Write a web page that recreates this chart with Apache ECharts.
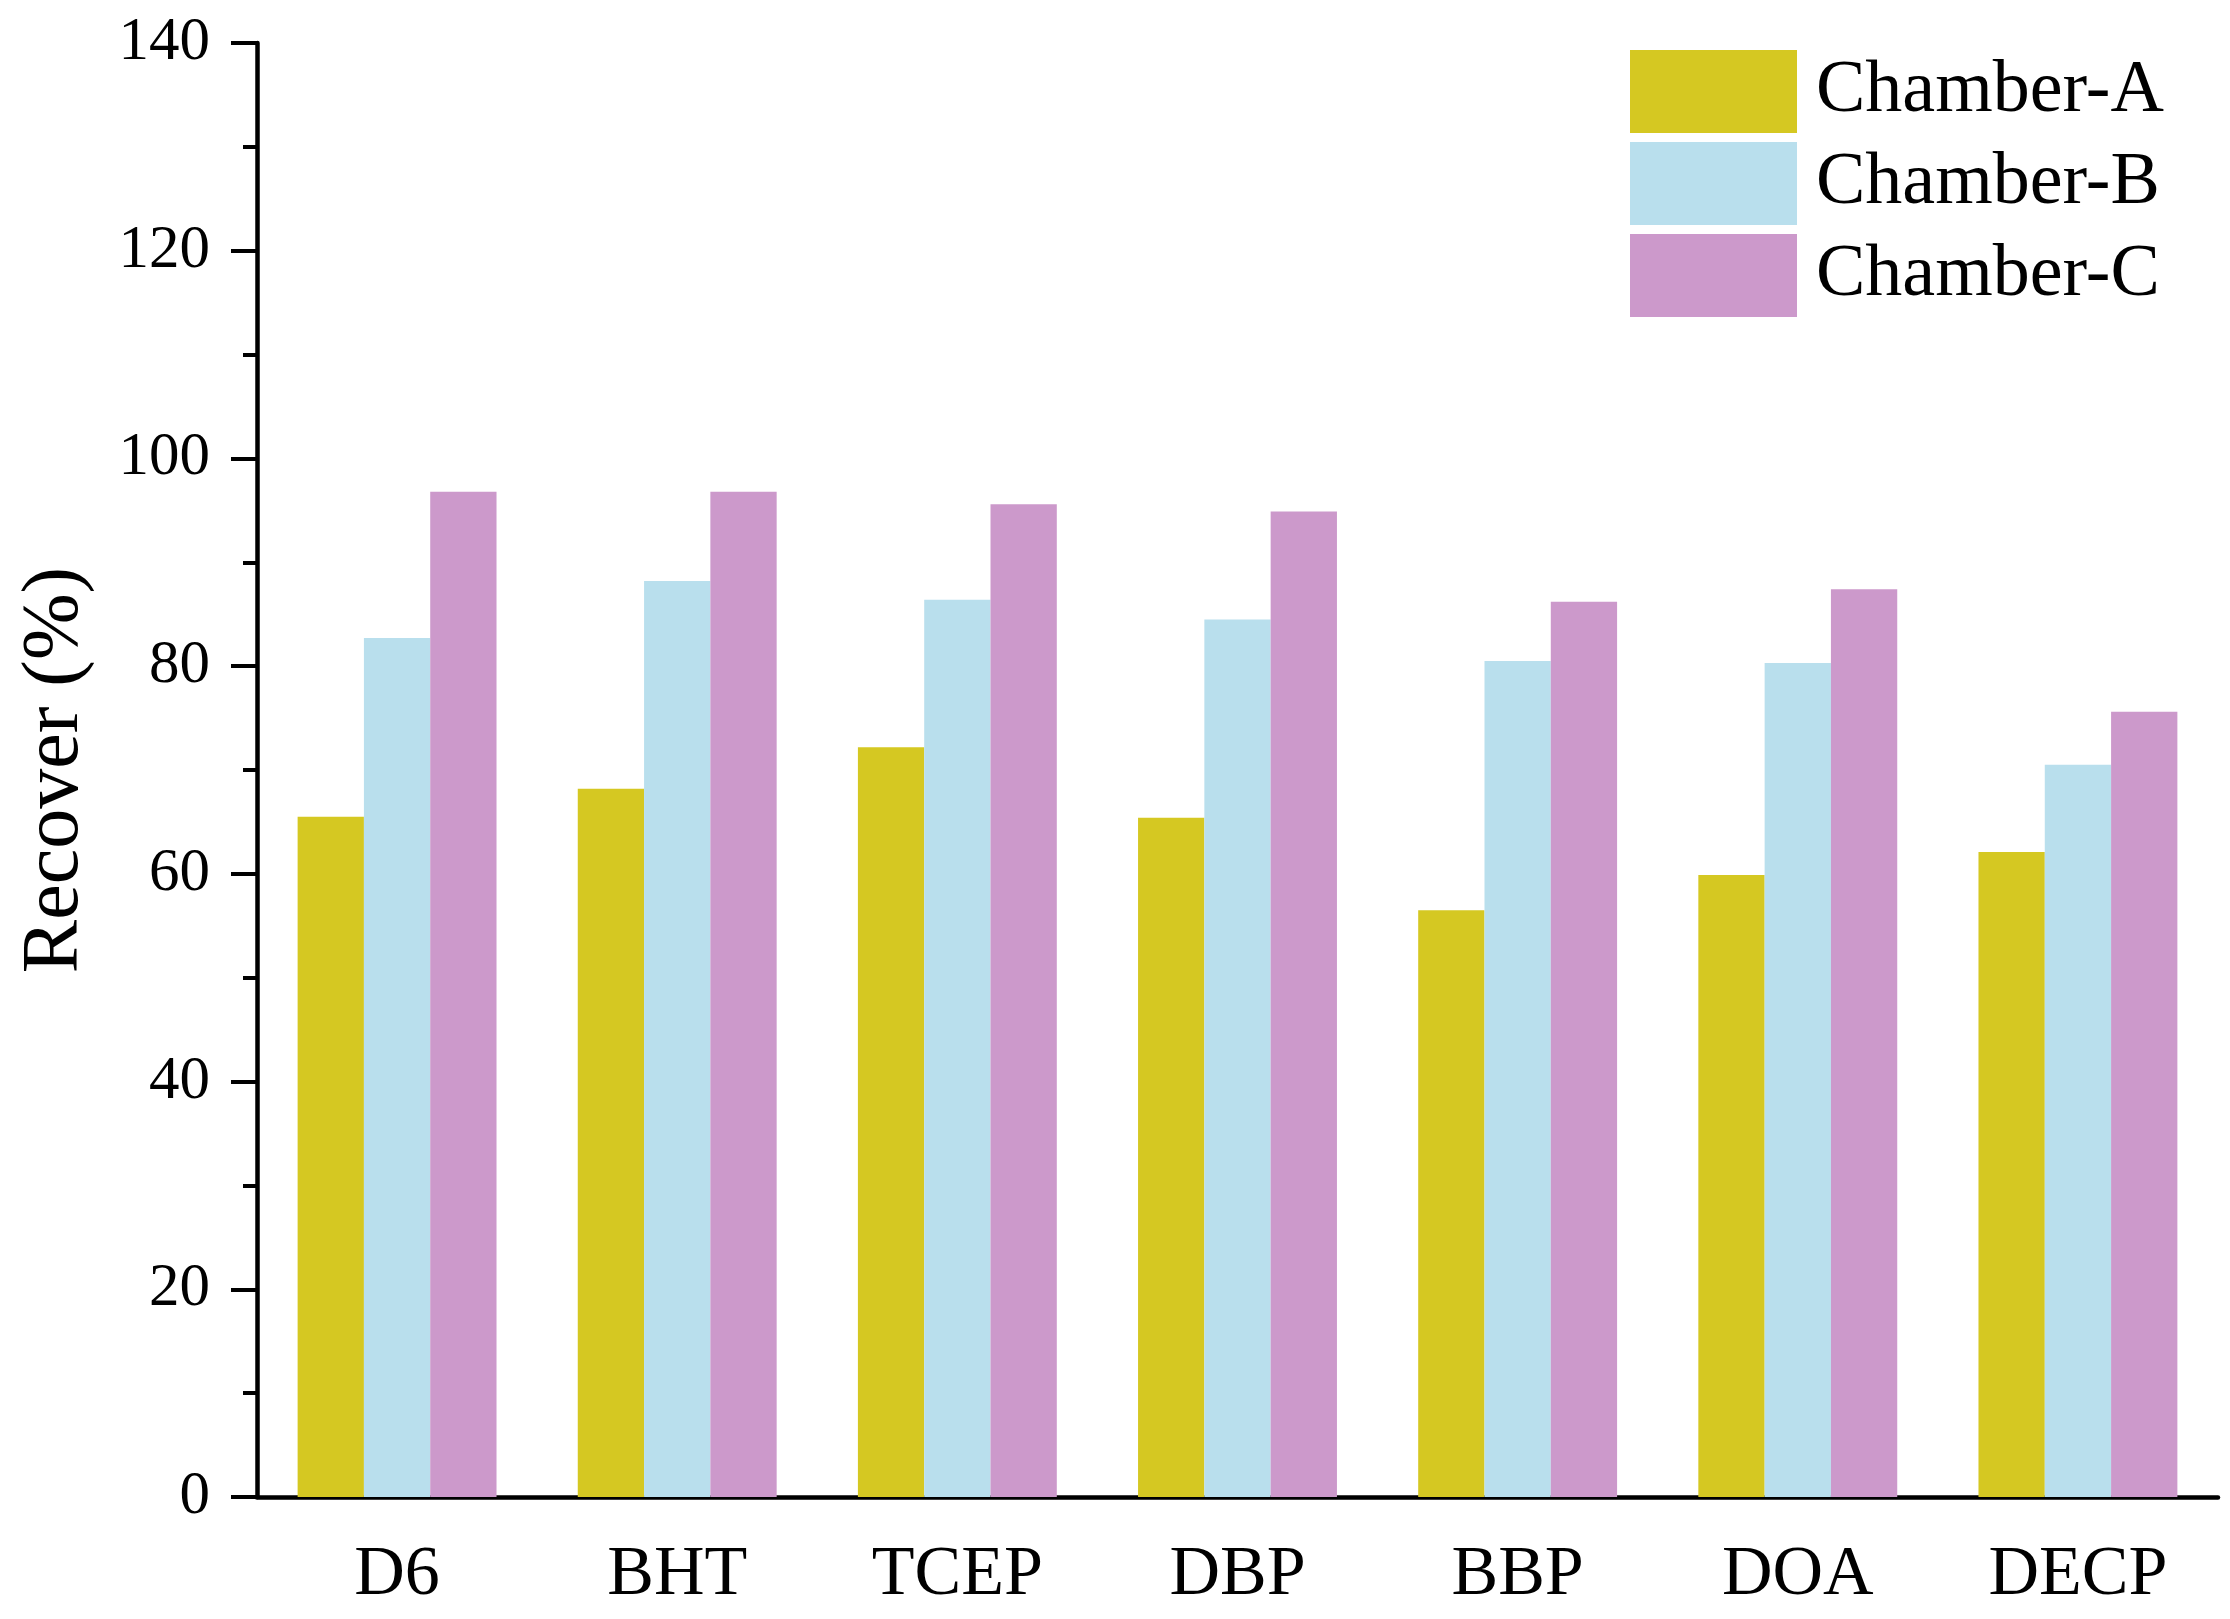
<!DOCTYPE html>
<html>
<head>
<meta charset="utf-8">
<script src="https://cdn.jsdelivr.net/npm/echarts@6/dist/echarts.min.js"></script>
<style>
html,body{margin:0;padding:0;background:#fff;}
#chart{width:2230px;height:1619px;}
</style>
</head>
<body>
<div id="chart"></div>
<script>
const categories = ['D6', 'BHT', 'TCEP', 'DBP', 'BBP', 'DOA', 'DECP'];
const seriesNames = ['Chamber-A', 'Chamber-B', 'Chamber-C'];
const chamberA = [65.5, 68.2, 72.2, 65.4, 56.5, 59.9, 62.1];
const chamberB = [82.7, 88.2, 86.4, 84.5, 80.5, 80.3, 70.5];
const chamberC = [96.8, 96.8, 95.6, 94.9, 86.2, 87.4, 75.6];
const colors = ['#D5C822', '#B9DFED', '#CC99CB'];
const yTicks = [0, 20, 40, 60, 80, 100, 120, 140];

const FONT = '"Liberation Serif", "Times New Roman", serif';
const chart = echarts.init(document.getElementById('chart'));
const values = [chamberA, chamberB, chamberC];

chart.setOption({
  backgroundColor: '#fff',
  animation: false,
  grid: { left: 257, right: 12, top: 43, bottom: 122, containLabel: false },
  legend: {
    orient: 'vertical',
    left: 1625,
    top: 45,
    itemWidth: 167,
    itemHeight: 83,
    itemGap: 9,
    icon: 'rect',
    data: seriesNames,
    textStyle: { fontFamily: FONT, fontSize: 74, color: '#000', padding: [0, 0, 0, 14] }
  },
  xAxis: [{
    type: 'category',
    data: categories,
    boundaryGap: true,
    axisLine: { lineStyle: { color: '#000', width: 4.5 } },
    axisTick: { alignWithLabel: true, length: 27, lineStyle: { color: '#000', width: 4 } },
    axisLabel: { fontFamily: FONT, fontSize: 70, color: '#000', margin: 44 }
  }, {
    type: 'category',
    data: categories,
    position: 'bottom',
    boundaryGap: true,
    axisLine: { show: false },
    axisTick: { alignWithLabel: false, length: 14, lineStyle: { color: '#000', width: 4 } },
    axisLabel: { show: false }
  }],
  yAxis: {
    type: 'value',
    min: 0,
    max: 140,
    interval: 20,
    name: 'Recover (%)',
    nameLocation: 'middle',
    nameGap: 161,
    nameTextStyle: { fontFamily: FONT, fontSize: 80, color: '#000' },
    axisLine: { show: true, lineStyle: { color: '#000', width: 4.5 } },
    axisTick: { show: true, length: 26, lineStyle: { color: '#000', width: 4 } },
    minorTick: { show: true, splitNumber: 2, length: 14, lineStyle: { color: '#000', width: 4 } },
    splitLine: { show: false },
    axisLabel: {
      fontFamily: FONT, fontSize: 61, color: '#000', margin: 47,
      formatter: v => (yTicks.indexOf(v) >= 0 ? String(v) : '')
    }
  },
  series: seriesNames.map((n, i) => ({
    name: n,
    type: 'bar',
    xAxisIndex: 0,
    data: values[i],
    barGap: '0%',
    barCategoryGap: '29%',
    itemStyle: { color: colors[i] }
  }))
});
</script>
</body>
</html>
